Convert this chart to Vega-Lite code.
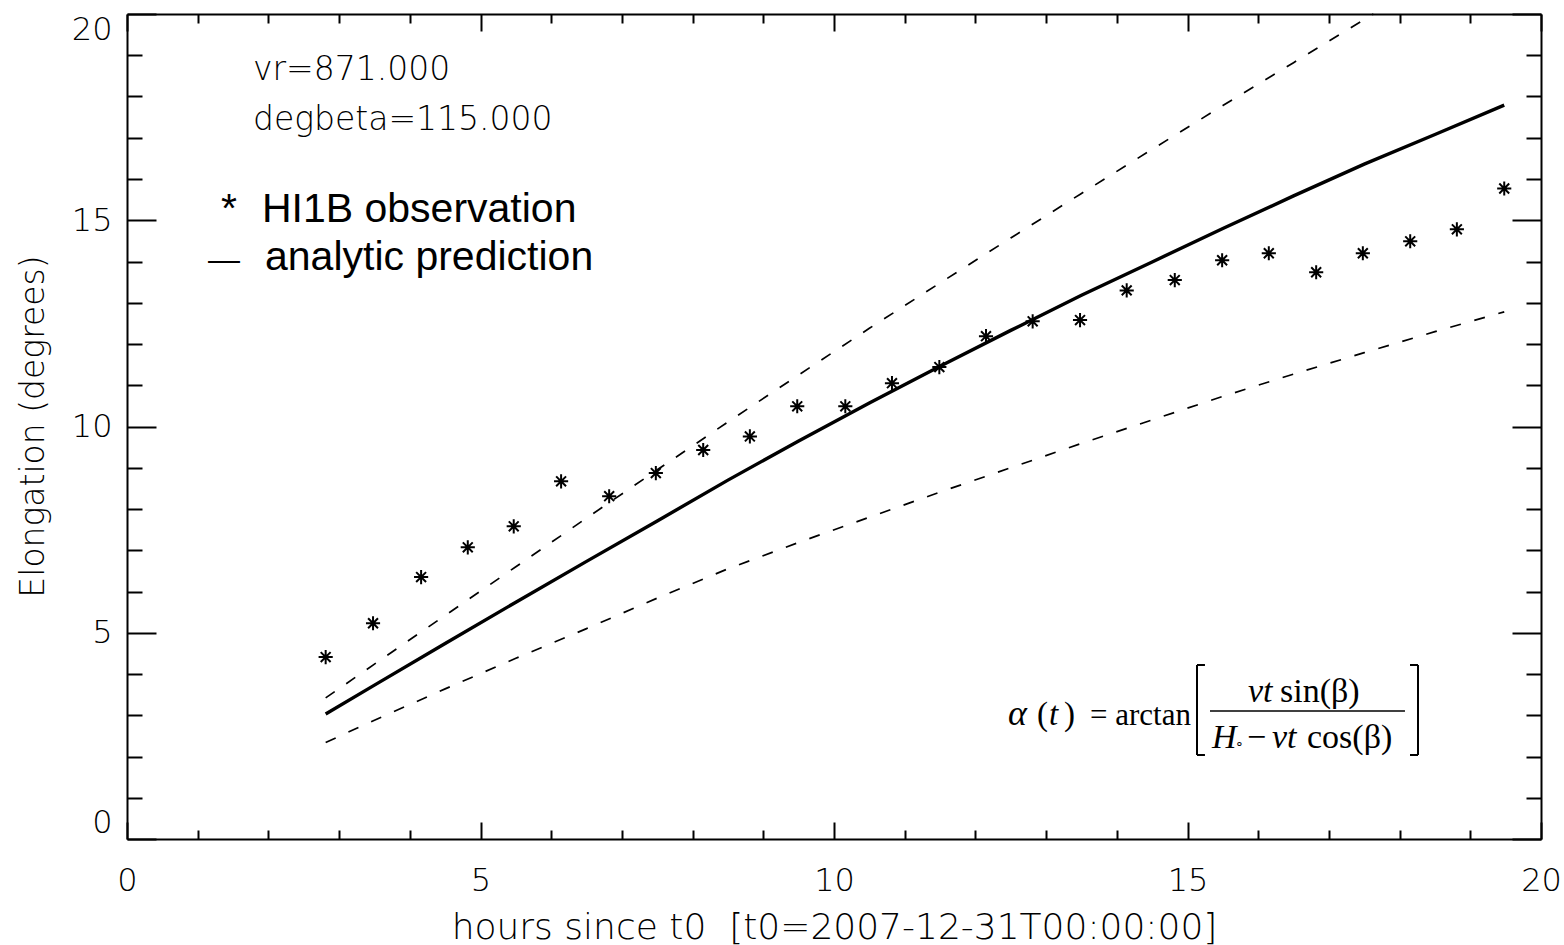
{
  "$schema": "https://vega.github.io/schema/vega-lite/v6.json",
  "width": 1414,
  "height": 825,
  "autosize": {"type": "none"},
  "padding": {"left": 127, "top": 14, "right": 23, "bottom": 106},
  "background": "white",
  "config": {
    "view": {"stroke": null},
    "axis": {
      "domainColor": "#000", "domainWidth": 2, "tickColor": "#000", "tickWidth": 2, "grid": false,
      "labelFont": "DejaVu Sans", "labelFontWeight": 200, "labelFontSize": 32, "labelColor": "#000",
      "titleFont": "DejaVu Sans", "titleFontWeight": 200, "titleFontSize": 33, "titleColor": "#000",
      "labelOverlap": false, "labelBound": false
    }
  },
  "datasets": {
    "obs": [
      {"hours": 2.81, "elong": 4.41}, {"hours": 3.48, "elong": 5.23}, {"hours": 4.16, "elong": 6.35},
      {"hours": 4.82, "elong": 7.07}, {"hours": 5.47, "elong": 7.58}, {"hours": 6.14, "elong": 8.67},
      {"hours": 6.82, "elong": 8.31}, {"hours": 7.48, "elong": 8.87}, {"hours": 8.15, "elong": 9.43},
      {"hours": 8.81, "elong": 9.76}, {"hours": 9.48, "elong": 10.49}, {"hours": 10.16, "elong": 10.49},
      {"hours": 10.82, "elong": 11.05}, {"hours": 11.49, "elong": 11.44}, {"hours": 12.15, "elong": 12.19},
      {"hours": 12.81, "elong": 12.55}, {"hours": 13.48, "elong": 12.58}, {"hours": 14.14, "elong": 13.30},
      {"hours": 14.82, "elong": 13.55}, {"hours": 15.49, "elong": 14.03}, {"hours": 16.15, "elong": 14.20},
      {"hours": 16.82, "elong": 13.74}, {"hours": 17.48, "elong": 14.20}, {"hours": 18.15, "elong": 14.49},
      {"hours": 18.81, "elong": 14.78}, {"hours": 19.48, "elong": 15.77}
    ],
    "curves": [
      {"curve": "analytic", "hours": 2.81, "elong": 3.03}, {"curve": "analytic", "hours": 3.5, "elong": 3.73},
      {"curve": "analytic", "hours": 4.5, "elong": 4.74}, {"curve": "analytic", "hours": 5.5, "elong": 5.74},
      {"curve": "analytic", "hours": 6.5, "elong": 6.73}, {"curve": "analytic", "hours": 7.5, "elong": 7.71},
      {"curve": "analytic", "hours": 8.5, "elong": 8.70}, {"curve": "analytic", "hours": 9.5, "elong": 9.65},
      {"curve": "analytic", "hours": 10.5, "elong": 10.57}, {"curve": "analytic", "hours": 11.5, "elong": 11.46},
      {"curve": "analytic", "hours": 12.5, "elong": 12.33}, {"curve": "analytic", "hours": 13.5, "elong": 13.18},
      {"curve": "analytic", "hours": 14.5, "elong": 13.99}, {"curve": "analytic", "hours": 15.5, "elong": 14.80},
      {"curve": "analytic", "hours": 16.5, "elong": 15.59}, {"curve": "analytic", "hours": 17.5, "elong": 16.36},
      {"curve": "analytic", "hours": 18.5, "elong": 17.08}, {"curve": "analytic", "hours": 19.48, "elong": 17.79},
      {"curve": "upper", "hours": 2.81, "elong": 3.42}, {"curve": "upper", "hours": 3.5, "elong": 4.24},
      {"curve": "upper", "hours": 4.5, "elong": 5.42}, {"curve": "upper", "hours": 5.5, "elong": 6.60},
      {"curve": "upper", "hours": 6.5, "elong": 7.78}, {"curve": "upper", "hours": 7.5, "elong": 8.95},
      {"curve": "upper", "hours": 8.5, "elong": 10.11}, {"curve": "upper", "hours": 9.5, "elong": 11.25},
      {"curve": "upper", "hours": 10.5, "elong": 12.38}, {"curve": "upper", "hours": 11.5, "elong": 13.48},
      {"curve": "upper", "hours": 12.5, "elong": 14.57}, {"curve": "upper", "hours": 13.5, "elong": 15.65},
      {"curve": "upper", "hours": 14.5, "elong": 16.72}, {"curve": "upper", "hours": 15.5, "elong": 17.78},
      {"curve": "upper", "hours": 16.5, "elong": 18.82}, {"curve": "upper", "hours": 17.63, "elong": 20.0},
      {"curve": "lower", "hours": 2.81, "elong": 2.34}, {"curve": "lower", "hours": 3.5, "elong": 2.88},
      {"curve": "lower", "hours": 4.5, "elong": 3.64}, {"curve": "lower", "hours": 5.5, "elong": 4.38},
      {"curve": "lower", "hours": 6.5, "elong": 5.10}, {"curve": "lower", "hours": 7.5, "elong": 5.84},
      {"curve": "lower", "hours": 8.5, "elong": 6.55}, {"curve": "lower", "hours": 9.5, "elong": 7.19},
      {"curve": "lower", "hours": 10.5, "elong": 7.80}, {"curve": "lower", "hours": 11.5, "elong": 8.41},
      {"curve": "lower", "hours": 12.5, "elong": 9.00}, {"curve": "lower", "hours": 13.5, "elong": 9.59},
      {"curve": "lower", "hours": 14.5, "elong": 10.16}, {"curve": "lower", "hours": 15.5, "elong": 10.73},
      {"curve": "lower", "hours": 16.5, "elong": 11.27}, {"curve": "lower", "hours": 17.5, "elong": 11.79},
      {"curve": "lower", "hours": 18.5, "elong": 12.30}, {"curve": "lower", "hours": 19.48, "elong": 12.78}
    ],
    "blank": [{}]
  },
  "layer": [
    {
      "data": {"name": "obs"},
      "mark": {"type": "point", "shape": "M-1,0H1M0,-1V1M-0.7,-0.7L0.7,0.7M-0.7,0.7L0.7,-0.7", "size": 200, "filled": false, "stroke": "#000", "strokeWidth": 2, "opacity": 1},
      "encoding": {
        "x": {"field": "hours", "type": "quantitative", "scale": {"domain": [0, 20], "nice": false, "zero": false},
          "axis": {"orient": "bottom", "values": [0,1,2,3,4,5,6,7,8,9,10,11,12,13,14,15,16,17,18,19,20],
            "labelExpr": "datum.value % 5 === 0 ? datum.label : ''",
            "tickSize": {"condition": {"test": "datum.value % 5 === 0", "value": -17}, "value": -9},
            "labelPadding": 43, "labelAngle": 0, "labelFlush": false,
            "title": "hours since t0\u00a0 [t0=2007-12-31T00:00:00]", "titleFontSize": 36, "titleY": 99, "titleX": 707, "titleBaseline": "alphabetic"}},
        "y": {"field": "elong", "type": "quantitative", "scale": {"domain": [0, 20], "nice": false, "zero": false},
          "axis": {"orient": "left", "values": [0,1,2,3,4,5,6,7,8,9,10,11,12,13,14,15,16,17,18,19,20],
            "labelExpr": "datum.value % 5 === 0 ? datum.label : ''",
            "tickSize": {"condition": {"test": "datum.value % 5 === 0", "value": -29}, "value": -15},
            "labelPadding": 44, "labelFlush": true,
            "title": "Elongation (degrees)", "titleX": -84, "titleY": 412, "titleAngle": -90, "titleBaseline": "alphabetic", "titleAlign": "center"}}
      }
    },
    {
      "data": {"name": "curves"},
      "transform": [{"filter": "datum.curve === 'analytic'"}],
      "mark": {"type": "line", "stroke": "#000", "strokeWidth": 3.4},
      "encoding": {
        "x": {"field": "hours", "type": "quantitative", "scale": {"domain": [0, 20], "nice": false, "zero": false},
          "axis": {"orient": "top", "values": [0,1,2,3,4,5,6,7,8,9,10,11,12,13,14,15,16,17,18,19,20], "labels": false, "title": null,
            "tickSize": {"condition": {"test": "datum.value % 5 === 0", "value": -17}, "value": -9}}},
        "y": {"field": "elong", "type": "quantitative", "scale": {"domain": [0, 20], "nice": false, "zero": false},
          "axis": {"orient": "right", "values": [0,1,2,3,4,5,6,7,8,9,10,11,12,13,14,15,16,17,18,19,20], "labels": false, "title": null,
            "tickSize": {"condition": {"test": "datum.value % 5 === 0", "value": -29}, "value": -15}}}
      }
    },
    {
      "data": {"name": "curves"},
      "transform": [{"filter": "datum.curve === 'upper'"}],
      "mark": {"type": "line", "stroke": "#000", "strokeWidth": 1.7, "strokeDash": [11, 14]},
      "encoding": {
        "x": {"field": "hours", "type": "quantitative", "scale": {"domain": [0, 20], "nice": false, "zero": false}, "axis": null},
        "y": {"field": "elong", "type": "quantitative", "scale": {"domain": [0, 20], "nice": false, "zero": false}, "axis": null}
      }
    },
    {
      "data": {"name": "curves"},
      "transform": [{"filter": "datum.curve === 'lower'"}],
      "mark": {"type": "line", "stroke": "#000", "strokeWidth": 1.7, "strokeDash": [11, 14]},
      "encoding": {
        "x": {"field": "hours", "type": "quantitative", "scale": {"domain": [0, 20], "nice": false, "zero": false}, "axis": null},
        "y": {"field": "elong", "type": "quantitative", "scale": {"domain": [0, 20], "nice": false, "zero": false}, "axis": null}
      }
    },
    {
      "data": {"name": "blank"},
      "mark": {"type": "text", "text": "vr=871.000", "align": "left", "baseline": "alphabetic", "font": "DejaVu Sans", "fontWeight": 200, "fontSize": 33, "color": "#000"},
      "encoding": {
        "x": {"datum": 1.782, "type": "quantitative", "scale": {"domain": [0, 20], "nice": false, "zero": false}, "axis": null},
        "y": {"datum": 18.40, "type": "quantitative", "scale": {"domain": [0, 20], "nice": false, "zero": false}, "axis": null}
      }
    },
    {
      "data": {"name": "blank"},
      "mark": {"type": "text", "text": "degbeta=115.000", "align": "left", "baseline": "alphabetic", "font": "DejaVu Sans", "fontWeight": 200, "fontSize": 33, "color": "#000"},
      "encoding": {
        "x": {"datum": 1.782, "type": "quantitative", "scale": {"domain": [0, 20], "nice": false, "zero": false}, "axis": null},
        "y": {"datum": 17.19, "type": "quantitative", "scale": {"domain": [0, 20], "nice": false, "zero": false}, "axis": null}
      }
    },
    {
      "data": {"name": "blank"},
      "mark": {"type": "text", "text": "*", "align": "center", "baseline": "alphabetic", "font": "Liberation Sans", "fontSize": 41, "color": "#000"},
      "encoding": {
        "x": {"datum": 1.443, "type": "quantitative", "scale": {"domain": [0, 20], "nice": false, "zero": false}, "axis": null},
        "y": {"datum": 14.96, "type": "quantitative", "scale": {"domain": [0, 20], "nice": false, "zero": false}, "axis": null}
      }
    },
    {
      "data": {"name": "blank"},
      "mark": {"type": "text", "text": "HI1B observation", "align": "left", "baseline": "alphabetic", "font": "Liberation Sans", "fontSize": 41, "color": "#000"},
      "encoding": {
        "x": {"datum": 1.909, "type": "quantitative", "scale": {"domain": [0, 20], "nice": false, "zero": false}, "axis": null},
        "y": {"datum": 14.96, "type": "quantitative", "scale": {"domain": [0, 20], "nice": false, "zero": false}, "axis": null}
      }
    },
    {
      "data": {"name": "blank"},
      "mark": {"type": "text", "text": "—", "align": "center", "baseline": "alphabetic", "font": "Liberation Sans", "fontSize": 32, "color": "#000"},
      "encoding": {
        "x": {"datum": 1.372, "type": "quantitative", "scale": {"domain": [0, 20], "nice": false, "zero": false}, "axis": null},
        "y": {"datum": 13.79, "type": "quantitative", "scale": {"domain": [0, 20], "nice": false, "zero": false}, "axis": null}
      }
    },
    {
      "data": {"name": "blank"},
      "mark": {"type": "text", "text": "analytic prediction", "align": "left", "baseline": "alphabetic", "font": "Liberation Sans", "fontSize": 41, "color": "#000"},
      "encoding": {
        "x": {"datum": 1.952, "type": "quantitative", "scale": {"domain": [0, 20], "nice": false, "zero": false}, "axis": null},
        "y": {"datum": 13.79, "type": "quantitative", "scale": {"domain": [0, 20], "nice": false, "zero": false}, "axis": null}
      }
    },
    {
      "data": {"name": "blank"},
      "mark": {"type": "text", "text": "α", "align": "left", "baseline": "alphabetic", "font": "Liberation Serif", "fontStyle": "italic", "fontSize": 36, "color": "#000"},
      "encoding": {
        "x": {"datum": 12.461, "type": "quantitative", "scale": {"domain": [0, 20], "nice": false, "zero": false}, "axis": null},
        "y": {"datum": 2.764, "type": "quantitative", "scale": {"domain": [0, 20], "nice": false, "zero": false}, "axis": null}
      }
    },
    {
      "data": {"name": "blank"},
      "mark": {"type": "text", "text": "(", "align": "left", "baseline": "alphabetic", "font": "Liberation Serif", "fontSize": 33, "color": "#000"},
      "encoding": {
        "x": {"datum": 12.871, "type": "quantitative", "scale": {"domain": [0, 20], "nice": false, "zero": false}, "axis": null},
        "y": {"datum": 2.764, "type": "quantitative", "scale": {"domain": [0, 20], "nice": false, "zero": false}, "axis": null}
      }
    },
    {
      "data": {"name": "blank"},
      "mark": {"type": "text", "text": "t", "align": "left", "baseline": "alphabetic", "font": "Liberation Serif", "fontStyle": "italic", "fontSize": 33, "color": "#000"},
      "encoding": {
        "x": {"datum": 13.041, "type": "quantitative", "scale": {"domain": [0, 20], "nice": false, "zero": false}, "axis": null},
        "y": {"datum": 2.764, "type": "quantitative", "scale": {"domain": [0, 20], "nice": false, "zero": false}, "axis": null}
      }
    },
    {
      "data": {"name": "blank"},
      "mark": {"type": "text", "text": ")", "align": "left", "baseline": "alphabetic", "font": "Liberation Serif", "fontSize": 33, "color": "#000"},
      "encoding": {
        "x": {"datum": 13.253, "type": "quantitative", "scale": {"domain": [0, 20], "nice": false, "zero": false}, "axis": null},
        "y": {"datum": 2.764, "type": "quantitative", "scale": {"domain": [0, 20], "nice": false, "zero": false}, "axis": null}
      }
    },
    {
      "data": {"name": "blank"},
      "mark": {"type": "text", "text": "= arctan", "align": "left", "baseline": "alphabetic", "font": "Liberation Serif", "fontSize": 31, "color": "#000"},
      "encoding": {
        "x": {"datum": 13.621, "type": "quantitative", "scale": {"domain": [0, 20], "nice": false, "zero": false}, "axis": null},
        "y": {"datum": 2.764, "type": "quantitative", "scale": {"domain": [0, 20], "nice": false, "zero": false}, "axis": null}
      }
    },
    {
      "data": {"name": "blank"},
      "mark": {"type": "text", "text": "vt", "align": "left", "baseline": "alphabetic", "font": "Liberation Serif", "fontStyle": "italic", "fontSize": 34, "color": "#000"},
      "encoding": {
        "x": {"datum": 15.856, "type": "quantitative", "scale": {"domain": [0, 20], "nice": false, "zero": false}, "axis": null},
        "y": {"datum": 3.321, "type": "quantitative", "scale": {"domain": [0, 20], "nice": false, "zero": false}, "axis": null}
      }
    },
    {
      "data": {"name": "blank"},
      "mark": {"type": "text", "text": "sin(β)", "align": "left", "baseline": "alphabetic", "font": "Liberation Serif", "fontSize": 34, "color": "#000"},
      "encoding": {
        "x": {"datum": 16.308, "type": "quantitative", "scale": {"domain": [0, 20], "nice": false, "zero": false}, "axis": null},
        "y": {"datum": 3.321, "type": "quantitative", "scale": {"domain": [0, 20], "nice": false, "zero": false}, "axis": null}
      }
    },
    {
      "data": {"name": "blank"},
      "mark": {"type": "text", "text": "H", "align": "left", "baseline": "alphabetic", "font": "Liberation Serif", "fontStyle": "italic", "fontSize": 34, "color": "#000"},
      "encoding": {
        "x": {"datum": 15.347, "type": "quantitative", "scale": {"domain": [0, 20], "nice": false, "zero": false}, "axis": null},
        "y": {"datum": 2.206, "type": "quantitative", "scale": {"domain": [0, 20], "nice": false, "zero": false}, "axis": null}
      }
    },
    {
      "data": {"name": "blank"},
      "mark": {"type": "text", "text": "∘", "align": "left", "baseline": "alphabetic", "font": "Liberation Serif", "fontSize": 14, "color": "#000"},
      "encoding": {
        "x": {"datum": 15.672, "type": "quantitative", "scale": {"domain": [0, 20], "nice": false, "zero": false}, "axis": null},
        "y": {"datum": 2.206, "type": "quantitative", "scale": {"domain": [0, 20], "nice": false, "zero": false}, "axis": null}
      }
    },
    {
      "data": {"name": "blank"},
      "mark": {"type": "text", "text": "−", "align": "left", "baseline": "alphabetic", "font": "Liberation Serif", "fontSize": 34, "color": "#000"},
      "encoding": {
        "x": {"datum": 15.842, "type": "quantitative", "scale": {"domain": [0, 20], "nice": false, "zero": false}, "axis": null},
        "y": {"datum": 2.206, "type": "quantitative", "scale": {"domain": [0, 20], "nice": false, "zero": false}, "axis": null}
      }
    },
    {
      "data": {"name": "blank"},
      "mark": {"type": "text", "text": "vt", "align": "left", "baseline": "alphabetic", "font": "Liberation Serif", "fontStyle": "italic", "fontSize": 34, "color": "#000"},
      "encoding": {
        "x": {"datum": 16.195, "type": "quantitative", "scale": {"domain": [0, 20], "nice": false, "zero": false}, "axis": null},
        "y": {"datum": 2.206, "type": "quantitative", "scale": {"domain": [0, 20], "nice": false, "zero": false}, "axis": null}
      }
    },
    {
      "data": {"name": "blank"},
      "mark": {"type": "text", "text": "cos(β)", "align": "left", "baseline": "alphabetic", "font": "Liberation Serif", "fontSize": 34, "color": "#000"},
      "encoding": {
        "x": {"datum": 16.690, "type": "quantitative", "scale": {"domain": [0, 20], "nice": false, "zero": false}, "axis": null},
        "y": {"datum": 2.206, "type": "quantitative", "scale": {"domain": [0, 20], "nice": false, "zero": false}, "axis": null}
      }
    },
    {
      "data": {"name": "blank"},
      "mark": {"type": "rule", "stroke": "#000", "strokeWidth": 1.5},
      "encoding": {
        "x": {"datum": 15.318, "type": "quantitative", "scale": {"domain": [0, 20], "nice": false, "zero": false}, "axis": null},
        "x2": {"datum": 18.076},
        "y": {"datum": 3.103, "type": "quantitative", "scale": {"domain": [0, 20], "nice": false, "zero": false}, "axis": null}
      }
    },
    {
      "data": {"name": "blank"},
      "mark": {"type": "rule", "stroke": "#000", "strokeWidth": 2},
      "encoding": {
        "x": {"datum": 15.134, "type": "quantitative", "scale": {"domain": [0, 20], "nice": false, "zero": false}, "axis": null},
        "y": {"datum": 4.218, "type": "quantitative", "scale": {"domain": [0, 20], "nice": false, "zero": false}, "axis": null},
        "y2": {"datum": 2.036}
      }
    },
    {
      "data": {"name": "blank"},
      "mark": {"type": "rule", "stroke": "#000", "strokeWidth": 2},
      "encoding": {
        "x": {"datum": 15.134, "type": "quantitative", "scale": {"domain": [0, 20], "nice": false, "zero": false}, "axis": null},
        "x2": {"datum": 15.247},
        "y": {"datum": 4.218, "type": "quantitative", "scale": {"domain": [0, 20], "nice": false, "zero": false}, "axis": null}
      }
    },
    {
      "data": {"name": "blank"},
      "mark": {"type": "rule", "stroke": "#000", "strokeWidth": 2},
      "encoding": {
        "x": {"datum": 15.134, "type": "quantitative", "scale": {"domain": [0, 20], "nice": false, "zero": false}, "axis": null},
        "x2": {"datum": 15.247},
        "y": {"datum": 2.036, "type": "quantitative", "scale": {"domain": [0, 20], "nice": false, "zero": false}, "axis": null}
      }
    },
    {
      "data": {"name": "blank"},
      "mark": {"type": "rule", "stroke": "#000", "strokeWidth": 2},
      "encoding": {
        "x": {"datum": 18.260, "type": "quantitative", "scale": {"domain": [0, 20], "nice": false, "zero": false}, "axis": null},
        "y": {"datum": 4.218, "type": "quantitative", "scale": {"domain": [0, 20], "nice": false, "zero": false}, "axis": null},
        "y2": {"datum": 2.036}
      }
    },
    {
      "data": {"name": "blank"},
      "mark": {"type": "rule", "stroke": "#000", "strokeWidth": 2},
      "encoding": {
        "x": {"datum": 18.147, "type": "quantitative", "scale": {"domain": [0, 20], "nice": false, "zero": false}, "axis": null},
        "x2": {"datum": 18.260},
        "y": {"datum": 4.218, "type": "quantitative", "scale": {"domain": [0, 20], "nice": false, "zero": false}, "axis": null}
      }
    },
    {
      "data": {"name": "blank"},
      "mark": {"type": "rule", "stroke": "#000", "strokeWidth": 2},
      "encoding": {
        "x": {"datum": 18.147, "type": "quantitative", "scale": {"domain": [0, 20], "nice": false, "zero": false}, "axis": null},
        "x2": {"datum": 18.260},
        "y": {"datum": 2.036, "type": "quantitative", "scale": {"domain": [0, 20], "nice": false, "zero": false}, "axis": null}
      }
    }
  ],
  "resolve": {"axis": {"x": "independent", "y": "independent"}}
}
